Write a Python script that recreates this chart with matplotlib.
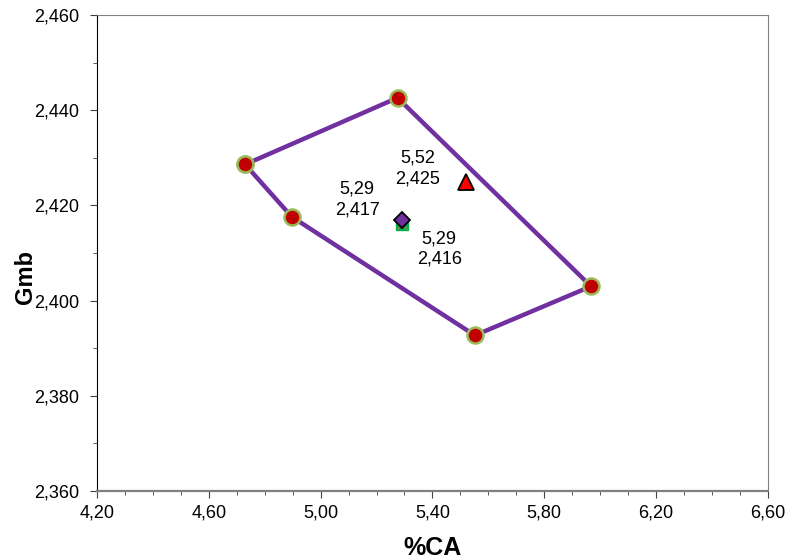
import matplotlib.pyplot as plt
import numpy as np
from matplotlib.ticker import FuncFormatter, FixedLocator, MultipleLocator

plt.rcParams['font.family'] = ['Liberation Sans', 'DejaVu Sans']

# polygon of trial points (closed)
poly_ca = [4.73, 5.275, 5.967, 5.552, 4.897, 4.73]
poly_gmb = [2.4286, 2.4426, 2.4030, 2.3927, 2.4176, 2.4286]

# single points
tri_ca, tri_gmb = [5.52], [2.425]
dia_ca, dia_gmb = [5.29], [2.417]
sq_ca, sq_gmb = [5.29], [2.416]

fig = plt.figure(figsize=(7.88, 5.59), dpi=100)
ax = fig.add_axes([0.123, 0.1216, 0.8516, 0.8516])

ax.plot(poly_ca, poly_gmb, color='#7030A0', lw=3.2, marker='o', ms=11.5,
        mfc='#C00000', mec='#9BBB59', mew=1.8, zorder=3)
ax.plot(sq_ca, sq_gmb, ls='none', marker='s', ms=8, mfc='#00B050',
        mec='#00B050', zorder=4)
ax.plot(sq_ca, sq_gmb, ls='none', marker='x', ms=7, mec='#C07030', mew=1, zorder=4)
ax.plot(dia_ca, dia_gmb, ls='none', marker='D', ms=8.5, mfc='#7030A0',
        mec='black', mew=1.3, zorder=5)
ax.plot(tri_ca, tri_gmb, ls='none', marker='^', ms=12, mfc='red',
        mec='black', mew=1.3, zorder=5)

def lab(x, y):
    return f"{x:.2f}\n{y:.3f}".replace('.', ',')

txt = dict(textcoords='offset points', ha='center', va='center',
           fontsize=13, linespacing=1.28)
ax.annotate(lab(tri_ca[0], tri_gmb[0]), (tri_ca[0], tri_gmb[0]),
            xytext=(-35, 9.5), **txt)
ax.annotate(lab(dia_ca[0], dia_gmb[0]), (dia_ca[0], dia_gmb[0]),
            xytext=(-32, 14.5), **txt)
ax.annotate(lab(sq_ca[0], sq_gmb[0]), (sq_ca[0], sq_gmb[0]),
            xytext=(27, -17.7), **txt)

ax.set_xlim(4.2, 6.6)
ax.set_ylim(2.36, 2.46)
ax.xaxis.set_major_locator(FixedLocator(np.round(np.arange(4.2, 6.61, 0.4), 2)))
ax.xaxis.set_minor_locator(FixedLocator(np.round(np.arange(4.2, 6.61, 0.1), 2)))
ax.yaxis.set_major_locator(MultipleLocator(0.02))
ax.yaxis.set_minor_locator(MultipleLocator(0.01))
ax.xaxis.set_major_formatter(FuncFormatter(lambda v, p: f"{v:.2f}".replace('.', ',')))
ax.yaxis.set_major_formatter(FuncFormatter(lambda v, p: f"{v:.3f}".replace('.', ',')))
ax.tick_params(which='both', direction='out', labelsize=13, colors='#404040',
               labelcolor='black')
ax.tick_params(which='major', length=5)
ax.tick_params(which='minor', length=3)
ax.tick_params(axis='x', which='major', pad=5)
ax.tick_params(axis='y', which='major', pad=8)

for s in ['top', 'right', 'bottom']:
    ax.spines[s].set_color('#808080')
ax.spines['bottom'].set_linewidth(1.6)
ax.spines['left'].set_color('black')

ax.set_xlabel('%CA', fontsize=18, fontweight='bold')
ax.xaxis.set_label_coords(0.5, -0.095)
ax.set_ylabel('Gmb', fontsize=17, fontweight='bold')
ax.yaxis.set_label_coords(-0.089, 0.45)

fig.savefig('out.png', dpi=100)
